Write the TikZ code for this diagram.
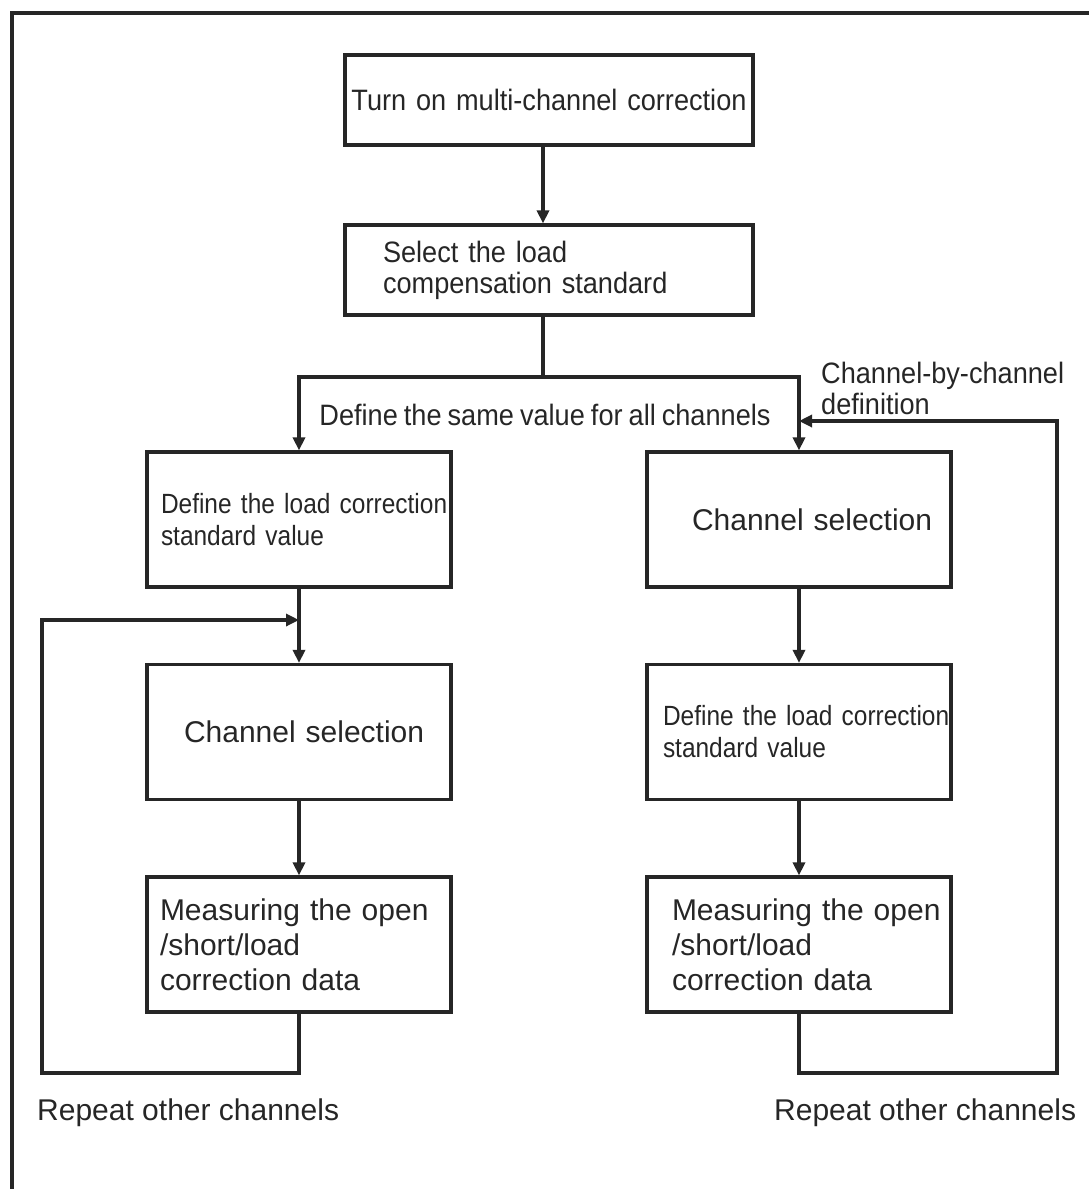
\documentclass[tikz,border=0pt]{standalone}
\usepackage{fontspec}
\setmainfont{Liberation Sans}
\newfontfamily\narrowfont{Liberation Sans}[FakeStretch=0.92,WordSpace=0.8]
\newfontfamily\narrowerfont{Liberation Sans}[FakeStretch=0.88,WordSpace=0.78]
\usetikzlibrary{arrows.meta}

\begin{document}
\begin{tikzpicture}[
  x=1pt,y=-1pt,
  box/.style={draw=black!85,line width=3.2pt,inner xsep=0pt,inner ysep=0pt,
    text width=304pt,minimum height=135pt,align=left,text=black!85},
  lpad/.style={execute at begin node={\leftskip=#1pt}},
  link/.style={draw=black!85,line width=3.2pt},
  arr/.style={link,-{Triangle[width=12pt,length=13pt]}},
  tlabel/.style={text=black!85,inner sep=0pt},
  narrowtext/.style={font=\narrowfont\fontsize{29.5}{33}\selectfont},
  defntext/.style={font=\narrowerfont\fontsize{27.8}{32}\selectfont},
  widetext/.style={font=\fontsize{30}{35}\selectfont}
]
  \useasboundingbox (0,0) rectangle (1089,1189);
  \draw[black!85,line width=3.2pt] (12,1189) -- (12,13) -- (1089,13);
  \coordinate (split) at (543,377);
  \coordinate (loopL) at (42,1073);
  \coordinate (joinL) at (299,620);
  \coordinate (loopR) at (1057,1073);
  \coordinate (joinR) at (799,421);
  % top boxes
  \node[box,text width=408pt,minimum height=90pt,align=center,narrowtext]
    (turnon) at (549,100) {Turn on multi-channel correction};
  \node[box,text width=408pt,minimum height=90pt,lpad=38,narrowtext,
    font=\narrowfont\fontsize{29.5}{31}\selectfont] (selstd) at (549,270)
    {Select the load\\compensation standard};
  % left column
  \node[box,lpad=14,defntext] (defL) at (299,519.5)
    {\mbox{Define the load correction}\\standard value};
  \node[box,lpad=37,widetext] (chanL) at (299,732) {Channel selection};
  \node[box,lpad=13,widetext] (measL) at (299,944.5)
    {Measuring the open\\/short/load\\correction data};
  % right column
  \node[box,lpad=45,widetext] (chanR) at (799,519.5) {Channel selection};
  \node[box,lpad=16,defntext] (defR) at (799,732)
    {\mbox{Define the load correction}\\standard value};
  \node[box,lpad=25,widetext] (measR) at (799,944.5)
    {Measuring the open\\/short/load\\correction data};
  % labels
  \node[tlabel,narrowtext] (same) at (545,415)
    {Define the same value for all channels};
  \node[tlabel,anchor=west,align=left,narrowtext,
    font=\narrowfont\fontsize{29.5}{31}\selectfont]
    (bych) at (821,388) {Channel-by-channel\\definition};
  \node[tlabel,anchor=west,widetext] (repL) at (37,1113) {Repeat other channels};
  \node[tlabel,anchor=west,widetext] (repR) at (774,1113) {Repeat other channels};
  % connectors
  \draw[arr] (turnon.south -| split) -- (selstd.north -| split);
  \draw[link] (selstd.south -| split) -- (split);
  \draw[arr] (split) -| (defL.north);
  \draw[arr] (split) -| (chanR.north);
  \draw[arr] (defL) -- (chanL);
  \draw[arr] (chanL) -- (measL);
  \draw[arr] (chanR) -- (defR);
  \draw[arr] (defR) -- (measR);
  \draw[arr] (measL.south) |- (loopL) |- (joinL);
  \draw[arr] (measR.south) |- (loopR) |- (joinR);
\end{tikzpicture}
\end{document}
